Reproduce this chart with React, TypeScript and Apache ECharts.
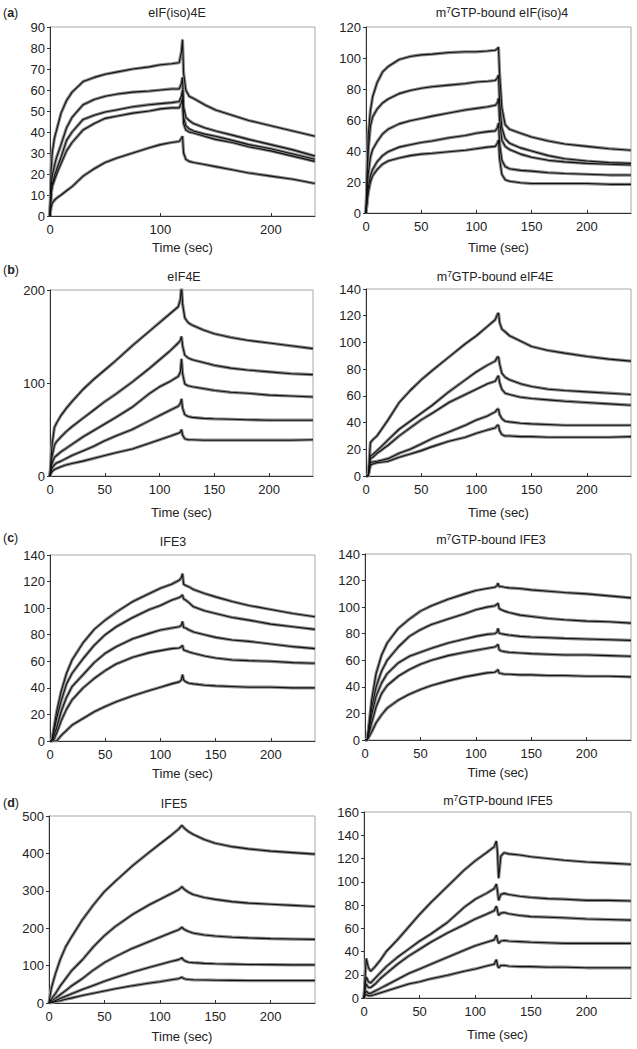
import React, { useEffect, useRef } from "react";
import * as echarts from "echarts";

const TIME = [0, 1, 2, 4, 6, 10, 15, 20, 30, 40, 50, 60, 75, 90, 100, 110, 117, 119, 120, 121, 123, 126, 130, 140, 150, 165, 180, 200, 220, 240];

// (a) eIF(iso)4E
const A1_C1 = [0, 22, 30, 37, 41, 49, 55, 59, 64, 66, 67.5, 68.5, 70, 71, 72, 72.5, 73, 78, 84, 68, 60, 57, 56, 53, 50.5, 48, 45.5, 43, 40.5, 38];
const A1_C2 = [0, 14, 19, 24, 28, 34, 42, 47, 53, 55.5, 57, 58, 59, 59.5, 60, 60.5, 60.5, 63, 66, 52, 47, 45.5, 44, 42, 40.5, 38.5, 36.5, 34, 31.5, 28.5];
const A1_C3 = [0, 11, 15, 19, 22, 28, 36, 40, 46, 48, 49.5, 50.5, 52, 53, 53.5, 54, 54.5, 57, 60, 47, 43, 41.5, 40.5, 39, 38, 36, 34, 32, 29.5, 27];
const A1_C4 = [0, 10, 14, 17, 20, 25, 31, 35, 41, 44, 46.5, 47.5, 49, 50, 51, 51.5, 51.5, 54, 56, 44, 41, 40, 39.5, 38, 36.5, 35, 33, 31, 28.5, 26];
const A1_C5 = [0, 4, 6, 7.5, 8.5, 10, 12, 14, 19, 22.5, 25.5, 27.5, 30, 32.5, 34, 35, 35.5, 37, 38, 30, 27, 26, 25.5, 24.5, 23.5, 22, 20.5, 19, 17.5, 15.5];

// (a) m7GTP-bound eIF(iso)4
const A2_C1 = [0, 25, 50, 66, 75, 84, 91, 94.5, 99, 101, 102, 102.5, 103.5, 104, 104, 104.5, 105, 106, 107, 90, 68, 57, 54, 51.5, 49, 46.5, 44.5, 43, 41.5, 40.5];
const A2_C2 = [0, 20, 40, 56, 62, 67, 71, 73.5, 77, 79, 80.5, 81.5, 82.5, 83.5, 84.5, 85, 85.5, 87, 89, 72, 55, 48, 45, 42, 40, 37, 35, 33.5, 32.5, 32];
const A2_C3 = [0, 12, 25, 36, 41, 46, 51, 54, 57.5, 59.5, 61, 62.5, 64.5, 66.5, 67.5, 68.5, 69.5, 71, 74, 60, 47, 43, 41, 38, 36, 34, 33, 32, 31.5, 31];
const A2_C4 = [0, 8, 16, 24, 28, 33, 37, 39.5, 42.5, 44, 45.5, 46.5, 48.5, 50, 51.5, 52.5, 53, 55, 58, 45, 34, 30, 28.5, 27.5, 27, 26, 25.5, 25, 24.5, 24.5];
const A2_C5 = [0, 7, 13, 20, 24, 28, 31.5, 33.5, 35.5, 37, 38, 38.5, 39.5, 40.5, 41.5, 42.5, 43, 45, 47, 35, 25, 21.5, 20.5, 19.5, 19, 19, 19, 19, 18.5, 18.5];

// (b) eIF4E
const B1_C1 = [0, 20, 35, 52, 57, 65, 73, 80, 93, 104, 114, 124, 140, 155, 165, 175, 182, 190, 205, 185, 170, 165, 162, 157, 153, 149, 146, 143, 140, 137];
const B1_C2 = [0, 12, 22, 33, 37, 42, 48, 53, 62, 71, 80, 88, 101, 115, 125, 135, 143, 146, 150, 140, 130, 127, 125, 122, 119, 116, 114, 112, 110, 109];
const B1_C3 = [0, 8, 14, 20, 22, 26, 30, 34, 42, 49, 56, 63, 74, 88, 96, 102, 107, 112, 126, 110, 99, 97, 96, 94, 92, 90, 89, 87, 86, 85];
const B1_C4 = [0, 5, 9, 12, 14, 16, 19, 22, 27, 32, 38, 43, 50, 59, 65, 71, 75, 78, 83, 73, 66, 64, 63, 62, 61.5, 61, 60.5, 60, 60, 60];
const B1_C5 = [0, 3, 5, 7, 8, 10, 12, 13.5, 16, 19, 22, 25, 29, 35, 39, 43, 46, 47, 50, 44, 40, 39, 39, 38.5, 38.5, 38.5, 38.5, 38.5, 38.5, 39];

// (b) m7GTP-bound eIF4E
const B2_C1 = [0, 0, 0, 25, 27, 30, 36, 42, 55, 64, 72, 79, 89, 99, 105, 112, 117, 121, 122, 115, 110, 108, 105, 101, 97, 94, 92, 89.5, 87.5, 86];
const B2_C2 = [0, 0, 0, 15, 16, 19, 23, 27, 35, 41, 47, 53, 63, 72, 78, 83, 86, 89, 89, 84, 77, 74, 72, 69, 67, 65, 64, 63, 62, 61];
const B2_C3 = [0, 0, 0, 13, 14, 17, 20, 23, 30, 36, 42, 47, 55, 61, 65, 69, 71, 74, 75, 70, 65, 62, 61, 59, 58, 57, 56, 55, 54, 53];
const B2_C4 = [0, 0, 0, 10, 10.5, 11, 12, 13, 17, 20, 24, 28, 33, 38, 42, 45, 48, 50, 50, 46, 43, 41, 40.5, 39.5, 39, 38.5, 38, 38, 38, 38];
const B2_C5 = [0, 0, 0, 8, 9, 10, 10.5, 11, 14, 16.5, 19, 22, 26, 29, 32, 34.5, 36, 38, 38, 34, 31, 30, 30, 29.5, 29.5, 29, 29, 29, 29, 29.5];

// (c) IFE3
const C1_C1 = [0, 0, 2, 12, 22, 37, 51, 61, 74, 84, 91, 97, 105, 111, 115, 118, 121, 123, 126, 118, 117, 116, 114, 111, 108.5, 105, 102, 99, 96, 93.5];
const C1_C2 = [0, 0, 1, 9, 17, 30, 43, 51, 62, 72, 80, 86, 93, 99, 102, 106, 108, 109, 110, 107, 106, 104, 101, 98, 96, 93, 91, 88, 86, 84];
const C1_C3 = [0, 0, 0, 5, 10, 22, 33, 41, 50, 59, 66, 71, 77, 81, 83.5, 85, 86, 87, 90, 85.5, 85, 83.5, 82, 80, 78, 76, 75, 73, 71, 69.5];
const C1_C4 = [0, 0, 0, 2, 6, 15, 24, 31, 40, 47, 53, 58, 63, 66.5, 68, 69.5, 70, 71, 72, 68.5, 68, 67, 66, 64, 62.5, 61, 60.5, 60, 59, 58.5];
const C1_C5 = [0, 0, 0, 0, 0, 4, 8, 12, 17, 22, 26, 29.5, 34, 38, 40.5, 43, 44.5, 46, 50, 46, 44.5, 43.5, 43, 42, 41.5, 41, 40.5, 40.5, 40, 40];

// (c) m7GTP-bound IFE3
const C2_C1 = [0, 0, 0, 15, 30, 50, 64, 73, 84, 91, 97, 101, 106, 110, 112.5, 114, 115, 116, 118, 115.5, 115.5, 115, 114.5, 114, 113, 112, 111, 110, 108.5, 107];
const C2_C2 = [0, 0, 0, 12, 24, 40, 52, 60, 70, 78, 83, 87, 91, 95, 98, 100, 101, 102, 103, 99, 98, 97, 96, 94, 93, 91.5, 90.5, 89.5, 89, 88];
const C2_C3 = [0, 0, 0, 9, 19, 33, 43, 50, 58, 63, 66, 69, 73, 76, 78, 79.5, 80, 81, 84, 80.5, 80, 79.5, 79, 78, 77.5, 77, 76.5, 76, 75.5, 75];
const C2_C4 = [0, 0, 0, 6, 13, 25, 35, 41, 48, 53, 57, 60, 63.5, 66, 67.5, 69, 70, 71, 72, 68, 67, 66.5, 66, 65.5, 65, 64.5, 64, 64, 63.5, 63];
const C2_C5 = [0, 0, 0, 3, 6, 13, 19, 24, 30, 34.5, 38, 41, 44.5, 47.5, 49, 50.5, 51, 52, 53, 50.5, 50, 49.5, 49.5, 49, 49, 48.5, 48.5, 48, 48, 47.5];

// (d) IFE5
const D1_C1 = [0, 20, 38, 60, 80, 115, 150, 175, 222, 262, 298, 326, 366, 402, 425, 448, 465, 472, 475, 471, 465, 458, 451, 437, 427, 418, 412, 406, 402, 398];
const D1_C2 = [0, 5, 10, 18, 26, 45, 65, 85, 115, 150, 180, 205, 236, 262, 277, 292, 303, 308, 311, 307, 302, 296, 290, 282, 277, 271, 267, 264, 261, 258];
const D1_C3 = [0, 3, 5, 9, 13, 22, 33, 45, 65, 88, 108, 124, 146, 164, 176, 188, 196, 200, 203, 199, 195, 191, 187, 182, 179, 176, 174, 172, 171, 170];
const D1_C4 = [0, 1, 2, 4, 7, 12, 18, 24, 36, 47, 58, 68, 82, 95, 103, 111, 116, 119, 121, 116, 112, 109, 108, 106, 105, 104, 103, 102.5, 102, 102];
const D1_C5 = [0, 0.5, 1, 2, 4, 6, 10, 13, 20, 26, 32, 38, 46, 53, 57, 62, 65, 68, 69, 66, 64, 63, 62, 61.5, 61, 60.5, 60, 60, 60, 60];

// (d) m7GTP-bound IFE5
const D2_C1 = [0, 18, 34, 26, 23, 27, 33, 40, 50, 61, 72, 82, 96, 110, 118, 125, 130, 135, 125, 103, 122, 125, 124, 123, 121.5, 120, 118.5, 117, 116, 115];
const D2_C2 = [0, 12, 18, 14, 13, 17, 22, 27, 35, 42, 49, 55, 65, 78, 85, 90, 94, 98, 92, 84, 89, 90, 89, 87.5, 86.5, 85.5, 85, 84, 84, 83.5];
const D2_C3 = [0, 8, 12, 9, 9, 12, 17, 21, 29, 36, 42, 48, 56, 63, 68, 72, 75, 79, 75, 71, 73, 73.5, 72.5, 71, 70, 69.5, 69, 68, 67.5, 67];
const D2_C4 = [0, 4, 6, 4, 4, 6, 8.5, 11, 16, 21, 25, 29, 35, 41, 45, 48, 50, 54, 50, 47, 49, 49.5, 49, 48.5, 48, 47.5, 47, 47, 47, 47];
const D2_C5 = [0, 2, 3, 2, 2, 3, 4.5, 6, 9, 12, 14, 16.5, 19.5, 23, 25, 27.5, 29, 33, 28, 26, 28, 28, 27.5, 27, 27, 26.5, 26.5, 26, 26, 26];

const TITLES = ["eIF(iso)4E", "m7GTP-bound eIF(iso)4", "eIF4E", "m7GTP-bound eIF4E", "IFE3", "m7GTP-bound IFE3", "IFE5", "m7GTP-bound IFE5"];
const LETTERS = ["a", "b", "c", "d"];
const Y_MAX = [90, 120, 200, 140, 140, 140, 500, 160];
const Y_STEP = [10, 20, 100, 20, 20, 20, 100, 20];
const X_STEP = [100, 50, 50, 50, 50, 50, 50, 50];
const X_LABEL = "Time (sec)";

const PANEL_CURVES = [
  [A1_C1, A1_C2, A1_C3, A1_C4, A1_C5],
  [A2_C1, A2_C2, A2_C3, A2_C4, A2_C5],
  [B1_C1, B1_C2, B1_C3, B1_C4, B1_C5],
  [B2_C1, B2_C2, B2_C3, B2_C4, B2_C5],
  [C1_C1, C1_C2, C1_C3, C1_C4, C1_C5],
  [C2_C1, C2_C2, C2_C3, C2_C4, C2_C5],
  [D1_C1, D1_C2, D1_C3, D1_C4, D1_C5],
  [D2_C1, D2_C2, D2_C3, D2_C4, D2_C5],
];

// layout (px)
const GRIDS = [
  { left: 50, top: 27, width: 265, height: 189 },
  { left: 366, top: 27, width: 265, height: 186 },
  { left: 50, top: 290, width: 263, height: 186 },
  { left: 366, top: 289, width: 265, height: 187 },
  { left: 50, top: 555, width: 265, height: 186 },
  { left: 365, top: 554, width: 266, height: 186 },
  { left: 49, top: 816, width: 266, height: 187 },
  { left: 364, top: 812, width: 267, height: 186 },
];
const TITLE_X = [177, 502, 184, 495, 173, 491, 174, 498];
const TITLE_Y = [13, 13, 277, 277, 542, 540, 804, 801];
const NAME_GAP = [25, 28, 30, 30, 26, 26, 27, 30];
const LETTER_Y = [13, 270, 538, 803];

const FONT = "'Liberation Sans', Arial, Helvetica, sans-serif";
const TXT = "#222";

export default function App() {
  const ref = useRef<HTMLDivElement>(null);
  useEffect(() => {
    document.body.style.margin = "0";
    const chart = echarts.init(ref.current!, null, { renderer: "svg" });
    const grid: any[] = [];
    const xAxis: any[] = [];
    const yAxis: any[] = [];
    const series: any[] = [];
    const graphic: any[] = [];
    GRIDS.forEach((g, i) => {
      grid.push({ ...g, show: true, borderColor: "#a8a8a8", borderWidth: 1, backgroundColor: "transparent" });
      xAxis.push({
        type: "value", gridIndex: i, min: 0, max: 240, interval: X_STEP[i],
        axisLine: { show: true, onZero: false, lineStyle: { color: "#333", width: 1 } },
        axisTick: { show: true, inside: true, length: 3, lineStyle: { color: "#333" } },
        axisLabel: { fontSize: 13, color: TXT, margin: 7, fontFamily: FONT, showMaxLabel: false },
        splitLine: { show: false },
        name: X_LABEL, nameLocation: "middle", nameGap: NAME_GAP[i],
        nameTextStyle: { fontSize: 13, color: TXT, fontFamily: FONT },
      });
      yAxis.push({
        type: "value", gridIndex: i, min: 0, max: Y_MAX[i], interval: Y_STEP[i],
        axisLine: { show: true, onZero: false, lineStyle: { color: "#333", width: 1 } },
        axisTick: { show: true, inside: false, length: 3, lineStyle: { color: "#333" } },
        axisLabel: { fontSize: 13, color: TXT, margin: 5, fontFamily: FONT },
        splitLine: { show: false },
      });
      const curves = PANEL_CURVES[i];
      curves.forEach((c) => {
        series.push({
          type: "line", xAxisIndex: i, yAxisIndex: i, showSymbol: false, symbol: "none",
          data: TIME.map((t, k) => [t, c[k]]), lineStyle: { color: "#8c8c8c", width: 3.2 },
          silent: true, z: 2,
        });
      });
      curves.forEach((c) => {
        series.push({
          type: "line", xAxisIndex: i, yAxisIndex: i, showSymbol: false, symbol: "none",
          data: TIME.map((t, k) => [t, c[k]]), lineStyle: { color: "#111", width: 1.1 },
          silent: true, z: 3,
        });
      });
      const title = TITLES[i];
      let rich = "";
      if (title.startsWith("m7")) rich = "{n|m}{s|7}{n|" + title.slice(2) + "}";
      else rich = "{n|" + title + "}";
      graphic.push({
        type: "text", x: TITLE_X[i], y: TITLE_Y[i],
        style: {
          text: rich, align: "center", verticalAlign: "middle", fill: TXT,
          rich: {
            n: { fontSize: 12.5, fontFamily: FONT, fill: TXT, lineHeight: 16 },
            s: { fontSize: 8.5, fontFamily: FONT, fill: TXT, lineHeight: 8, verticalAlign: "top" },
          },
        },
      });
    });
    LETTERS.forEach((l, j) => {
      graphic.push({
        type: "text", x: 3, y: LETTER_Y[j],
        style: {
          text: "{n|(}{b|" + l + "}{n|)}", align: "left", verticalAlign: "middle",
          rich: {
            n: { fontSize: 12.5, fontFamily: FONT, fill: TXT },
            b: { fontSize: 12.5, fontFamily: FONT, fill: TXT, fontWeight: "bold" },
          },
        },
      });
    });
    chart.setOption({ animation: false, grid, xAxis, yAxis, series, graphic });
    return () => chart.dispose();
  }, []);
  return <div ref={ref} style={{ width: 637, height: 1049 }} />;
}
